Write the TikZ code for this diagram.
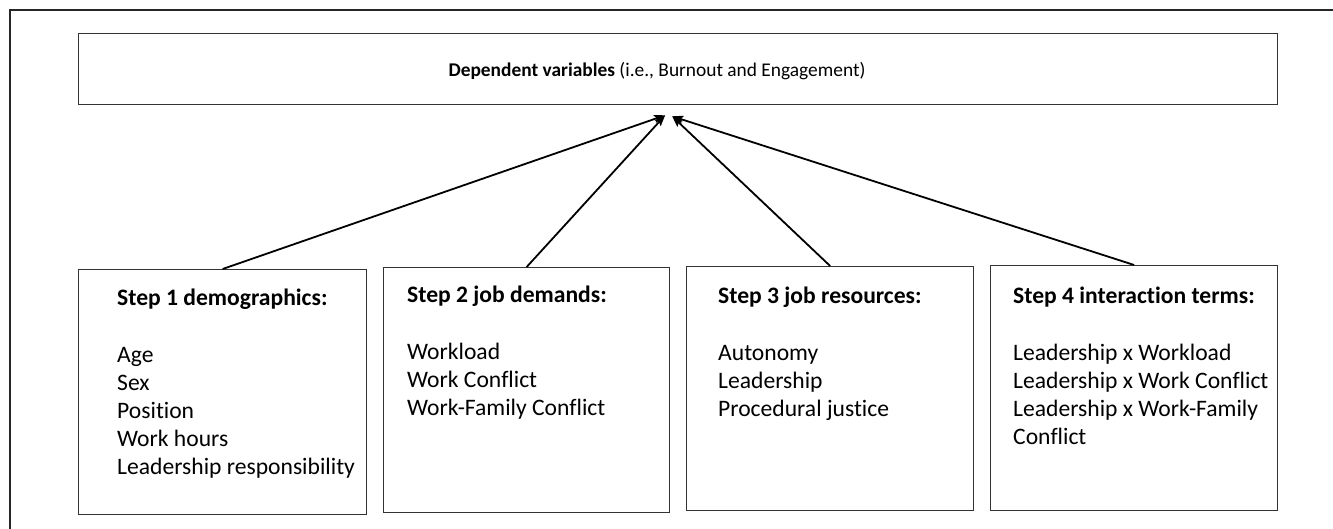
\documentclass[tikz,border=0pt]{standalone}
\usepackage{fontspec}
\setmainfont{Carlito}[Ligatures=NoCommon]
\usetikzlibrary{arrows.meta, positioning}

\begin{document}
\begin{tikzpicture}[x=1pt, y=-1pt,
    box/.style={draw=black!80, line width=1.3pt, inner sep=0pt, anchor=north west},
    steptext/.style={anchor=north west, align=left, inner sep=0pt, font=\fontsize{23.6}{28}\selectfont},
    todv/.style={-{Stealth[length=11pt, width=8pt, inset=2pt]}, line width=1.8pt}]
\useasboundingbox (0,0) rectangle (1333,529);
% outer frame, cut at the page edge
\draw [black!85, line width=1.2pt] (10,540) -- (10,10) -- (1345,10);

\node[box, minimum width=1199pt, minimum height=71pt] (dv) at (78,33) {};
\node[anchor=base, inner sep=0pt, font=\fontsize{19.4}{24}\selectfont] (dvtext) at (657,77)
  {\textbf{Dependent variables} (i.e., Burnout and Engagement)};

\node[box, minimum width=288pt, minimum height=245pt] (s1) at (78,269) {};
\node[box, minimum width=286pt, minimum height=245pt] (s2) at (383,267) {};
\node[box, minimum width=287pt, minimum height=244pt] (s3) at (686,266) {};
\node[box, minimum width=287pt, minimum height=245pt] (s4) at (990,265) {};

% first baseline sits 19.6pt (strut height) under the node top
\node[steptext] (t1) at (117,285.4) {\strut\textbf{Step 1 demographics:}\\[29pt]
  Age\\ Sex\\ Position\\ Work hours\\ Leadership responsibility};
\node[steptext] (t2) at (407,282.4) {\strut\textbf{Step 2 job demands:}\\[29pt]
  Workload\\ Work Conflict\\ Work-Family Conflict};
\node[steptext] (t3) at (718,283.4) {\strut\textbf{Step 3 job resources:}\\[29pt]
  Autonomy\\ Leadership\\ Procedural justice};
\node[steptext] (t4) at (1013,283.4) {\strut\textbf{Step 4 interaction terms:}\\[29pt]
  Leadership x Workload\\ Leadership x Work Conflict\\ Leadership x Work-Family\\ Conflict};

\coordinate (tipl) at ([xshift=-13pt, yshift=-10pt]dv.south);
\coordinate (tipr) at ([xshift=-6pt, yshift=-11pt]dv.south);
\draw [todv] (s1.north) -- (tipl);
\draw [todv] (s2.north) -- (tipl);
\draw [todv] (s3.north) -- (tipr);
\draw [todv] (s4.north) -- (tipr);
\end{tikzpicture}
\end{document}
